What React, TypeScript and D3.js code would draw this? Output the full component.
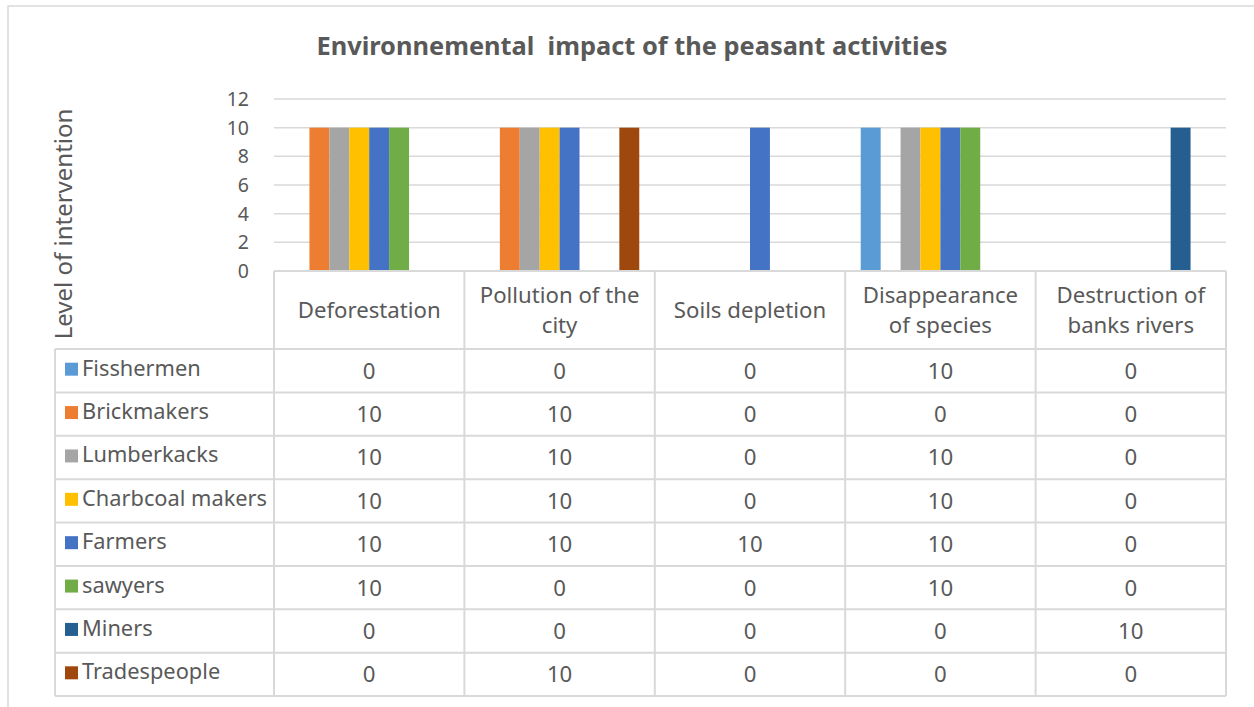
import React from "react";
import * as d3 from "d3";

const categories = [
  ["Deforestation"],
  ["Pollution of the", "city"],
  ["Soils depletion"],
  ["Disappearance", "of species"],
  ["Destruction of", "banks rivers"],
];
const seriesNames = [
  "Fisshermen",
  "Brickmakers",
  "Lumberkacks",
  "Charbcoal makers",
  "Farmers",
  "sawyers",
  "Miners",
  "Tradespeople",
];
const seriesColors = ["#5B9BD5", "#ED7D31", "#A5A5A5", "#FFC000", "#4472C4", "#70AD47", "#255E91", "#9E480E"];
const fisshermen = [0, 0, 0, 10, 0];
const brickmakers = [10, 10, 0, 0, 0];
const lumberkacks = [10, 10, 0, 10, 0];
const charbcoal = [10, 10, 0, 10, 0];
const farmers = [10, 10, 10, 10, 0];
const sawyers = [10, 0, 0, 10, 0];
const miners = [0, 0, 0, 0, 10];
const tradespeople = [0, 10, 0, 0, 0];
const seriesValues = [fisshermen, brickmakers, lumberkacks, charbcoal, farmers, sawyers, miners, tradespeople];
const yTicks = [0, 2, 4, 6, 8, 10, 12];

const W = 1254;
const H = 707;
const plotL = 274;
const plotR = 1226;
const plotT = 99;
const plotB = 271;
const headerB = 349;
const tableB = 696;
const legendL = 55;
const txt = "#595959";
const grid = "#D9D9D9";
const font = "'Noto Sans', 'Open Sans', sans-serif";
const cellFont = 22.2;
const legendFont = 21.8;

export default function App() {
  const catIdx = categories.map((_, i) => i);
  const x0 = d3.scaleBand<number>().domain(catIdx).range([plotL, plotR]).paddingInner(0).paddingOuter(0);
  const x1 = d3
    .scaleBand<number>()
    .domain(seriesNames.map((_, i) => i))
    .range([0, x0.bandwidth()])
    .paddingInner(0)
    .paddingOuter(0.78);
  const y = d3.scaleLinear().domain([0, 12]).range([plotB, plotT]);
  const rowY = d3
    .scaleBand<number>()
    .domain(seriesNames.map((_, i) => i))
    .range([headerB, tableB]);

  return (
    <svg width={W} height={H} style={{ position: "absolute", left: 0, top: 0, fontFamily: font }}>
      <rect x={0} y={0} width={W} height={H} fill="#fff" />
      <rect x={8} y={6} width={W + 10} height={H + 10} fill="#fff" stroke="#D9D9D9" strokeWidth={1.5} />
      <text x={632} y={55} textAnchor="middle" fontSize={25.4} fontWeight="bold" fill={txt} style={{ whiteSpace: "pre" }}>
        {"Environnemental  impact of the peasant activities"}
      </text>
      {/* gridlines */}
      {yTicks.map((t) => (
        <line key={"g" + t} x1={plotL} x2={plotR} y1={y(t)} y2={y(t)} stroke={grid} strokeWidth={1.5} />
      ))}
      {yTicks.map((t) => (
        <text key={"t" + t} x={249} y={y(t) + 7} textAnchor="end" fontSize={19.5} fill={txt}>
          {t}
        </text>
      ))}
      <text transform={`translate(72,${224}) rotate(-90)`} textAnchor="middle" fontSize={24} fill={txt}>
        Level of intervention
      </text>
      {/* bars */}
      {seriesValues.map((vals, s) =>
        vals.map((v, c) =>
          v > 0 ? (
            <rect
              key={`b${s}-${c}`}
              x={(x0(c) as number) + (x1(s) as number)}
              y={y(v)}
              width={x1.bandwidth()}
              height={y(0) - y(v)}
              fill={seriesColors[s]}
            />
          ) : null
        )
      )}
      {/* table lines */}
      <g stroke={grid} strokeWidth={2} fill="none">
        <line x1={plotL} x2={plotR} y1={plotB} y2={plotB} />
        {catIdx.map((c) => (
          <line key={"v" + c} x1={x0(c) as number} x2={x0(c) as number} y1={plotB} y2={tableB} />
        ))}
        <line x1={plotR} x2={plotR} y1={plotB} y2={tableB} />
        <line x1={legendL} x2={legendL} y1={headerB} y2={tableB} />
        {seriesNames.map((_, s) => (
          <line key={"h" + s} x1={legendL} x2={plotR} y1={rowY(s) as number} y2={rowY(s) as number} />
        ))}
        <line x1={legendL} x2={plotR} y1={tableB} y2={tableB} />
      </g>
      {/* header labels */}
      {categories.map((lines, c) => {
        const cx = (x0(c) as number) + x0.bandwidth() / 2;
        const cy = (plotB + headerB) / 2;
        const lh = 30;
        const start = cy - ((lines.length - 1) * lh) / 2 + 8;
        return (
          <text key={"c" + c} textAnchor="middle" fontSize={cellFont} fill={txt}>
            {lines.map((l, i) => (
              <tspan key={i} x={cx} y={start + i * lh}>
                {l}
              </tspan>
            ))}
          </text>
        );
      })}
      {/* rows */}
      {seriesNames.map((name, s) => {
        const ry = (rowY(s) as number) + rowY.bandwidth() / 2;
        return (
          <g key={"r" + s}>
            <rect x={65} y={ry - 8} width={13} height={13} fill={seriesColors[s]} />
            <text x={82} y={ry + 5} fontSize={legendFont} fill={txt}>
              {name}
            </text>
            {seriesValues[s].map((v, c) => (
              <text
                key={c}
                x={(x0(c) as number) + x0.bandwidth() / 2}
                y={ry + 8}
                textAnchor="middle"
                fontSize={cellFont}
                fill={txt}
              >
                {v}
              </text>
            ))}
          </g>
        );
      })}
    </svg>
  );
}
